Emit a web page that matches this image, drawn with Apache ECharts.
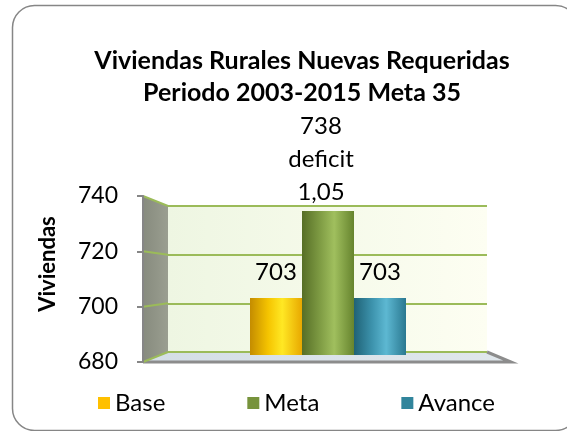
<!DOCTYPE html>
<html>
<head>
<meta charset="utf-8">
<script src="https://cdn.jsdelivr.net/npm/echarts@6/dist/echarts.min.js"></script>
<style>
html,body{margin:0;padding:0;background:#fff;}
#c{width:567px;height:431px;}
</style>
</head>
<body>
<div id="c"></div>
<script>
const titleLines = ['Viviendas Rurales Nuevas Requeridas', 'Periodo 2003-2015 Meta 35'];
const categories = ['Base', 'Meta', 'Avance'];
const values = [703, 738, 703];
const metaNotes = ['deficit', '1,05'];
const yTicks = [680, 700, 720, 740];
const yAxisName = 'Viviendas';

const FONT = 'Lato';
const legendColors = ['#ffc000', '#77933c', '#31859c'];
const barGradients = [
  ['#c48c00', '#f5c400', '#ffe824', '#e8a800'],
  ['#566e26', '#7f9c44', '#a0bf5e', '#66842e'],
  ['#1f6276', '#3d93ad', '#5db8d2', '#2a7890']
];
function grad(c) {
  return new echarts.graphic.LinearGradient(0, 0, 1, 0, [
    {offset: 0, color: c[0]}, {offset: 0.35, color: c[1]},
    {offset: 0.62, color: c[2]}, {offset: 1, color: c[3]}
  ]);
}

const yMin = yTicks[0], yMax = yTicks[yTicks.length - 1], yStep = yTicks[1] - yTicks[0];

const chart = echarts.init(document.getElementById('c'), null, {renderer: 'canvas'});

const series = categories.map((name, i) => ({
  name: name,
  type: 'bar',
  xAxisIndex: 0,
  yAxisIndex: 0,
  barWidth: 52,
  barGap: '0%',
  z: 3,
  data: [values[i]],
  itemStyle: {color: grad(barGradients[i])},
  label: {
    show: true,
    position: 'top',
    distance: name === 'Meta' ? 2 : 9,
    offset: name === 'Meta' ? [-7, 0] : [0, 0],
    fontFamily: FONT,
    fontSize: 24,
    lineHeight: 33,
    color: '#000',
    formatter: p => name === 'Meta' ? [p.value].concat(metaNotes).join('\n') : String(p.value)
  }
}));

const option = {
  animation: false,
  backgroundColor: '#fff',
  title: {
    text: titleLines.join('\n'),
    left: 297,
    top: 40,
    textAlign: 'center',
    textStyle: {fontFamily: FONT, fontWeight: 'bold', fontSize: 25, lineHeight: 32, color: '#000'}
  },
  legend: {
    left: 93,
    top: 386,
    itemWidth: 12,
    itemHeight: 12,
    itemGap: 82,
    icon: 'rect',
    textStyle: {fontFamily: FONT, fontSize: 24, color: '#000'},
    data: categories.map((n, i) => ({name: n, itemStyle: {color: legendColors[i]}}))
  },
  grid: [
    {left: 250, right: 161, top: 206, bottom: 76},
    {left: 168, right: 80, top: 206, bottom: 79, show: true, borderWidth: 0,
      backgroundColor: new echarts.graphic.LinearGradient(0, 0, 1, 0, [
        {offset: 0, color: '#eef6e2'}, {offset: 1, color: '#fdfef2'}
      ])},
    {left: 143, right: 56, top: 196, bottom: 69}
  ],
  xAxis: [
    {type: 'category', gridIndex: 0, data: [''], show: false},
    {type: 'value', gridIndex: 1, min: 0, max: 1, show: false},
    {type: 'value', gridIndex: 2, min: 0, max: 1, show: false}
  ],
  yAxis: [
    {type: 'value', gridIndex: 0, min: yMin, max: yMax, interval: yStep, show: false},
    {type: 'value', gridIndex: 1, min: yMin, max: yMax, interval: yStep, z: 1,
      axisLine: {show: false}, axisTick: {show: false}, axisLabel: {show: false},
      splitLine: {show: true, lineStyle: {color: '#9bbb59', width: 2}}},
    {type: 'value', gridIndex: 2, min: yMin, max: yMax, interval: yStep, z: 4,
      name: yAxisName, nameLocation: 'middle', nameGap: 84, nameRotate: 90,
      nameTextStyle: {fontFamily: FONT, fontWeight: 'bold', fontSize: 22, color: '#000', padding: [0, 0, 0, 30]},
      axisLine: {show: true, lineStyle: {color: '#868686', width: 2}},
      axisTick: {show: true, length: 6, lineStyle: {color: '#868686', width: 2}},
      axisLabel: {fontFamily: FONT, fontSize: 23, color: '#000', margin: 25},
      splitLine: {show: false}}
  ],
  series: series
};
chart.setOption(option);

const FL = v => chart.convertToPixel({xAxisIndex: 2, yAxisIndex: 2}, [0, v]);
const FR = v => chart.convertToPixel({xAxisIndex: 2, yAxisIndex: 2}, [1, v]);
const BL = v => chart.convertToPixel({xAxisIndex: 1, yAxisIndex: 1}, [0, v]);
const BR = v => chart.convertToPixel({xAxisIndex: 1, yAxisIndex: 1}, [1, v]);

const g = [];
g.push({type: 'rect', z: 0, silent: true,
  shape: {x: 12.5, y: 5.5, width: 565, height: 425, r: 22},
  style: {fill: 'none', stroke: '#868686', lineWidth: 1.5}});
g.push({type: 'polygon', z: 2, silent: true,
  shape: {points: [FL(yMax), BL(yMax), BL(yMin), FL(yMin)]},
  style: {fill: new echarts.graphic.LinearGradient(0, 0, 1, 0, [
    {offset: 0, color: '#878b7e'}, {offset: 1, color: '#9a9e90'}])}});
g.push({type: 'polygon', z: 2, silent: true,
  shape: {points: [BL(yMin), BR(yMin), FR(yMin), FL(yMin)]},
  style: {fill: new echarts.graphic.LinearGradient(0, 0, 1, 0, [
    {offset: 0, color: '#d4dee6'}, {offset: 1, color: '#e0e7ec'}])}});
g.push({type: 'polyline', z: 2, silent: true,
  shape: {points: [FL(yMin), FR(yMin), BR(yMin)]},
  style: {stroke: '#8c8c8c', lineWidth: 3, fill: null}});
yTicks.forEach(v => {
  g.push({type: 'line', z: 2, silent: true,
    shape: {x1: FL(v)[0], y1: FL(v)[1], x2: BL(v)[0], y2: BL(v)[1]},
    style: {stroke: '#9bbb59', lineWidth: 2}});
});
g.push({type: 'line', z: 2, silent: true,
  shape: {x1: BL(yMin)[0], y1: BL(yMin)[1], x2: BR(yMin)[0], y2: BR(yMin)[1]},
  style: {stroke: '#9bbb59', lineWidth: 2}});
chart.setOption({graphic: g});
</script>
</body>
</html>
